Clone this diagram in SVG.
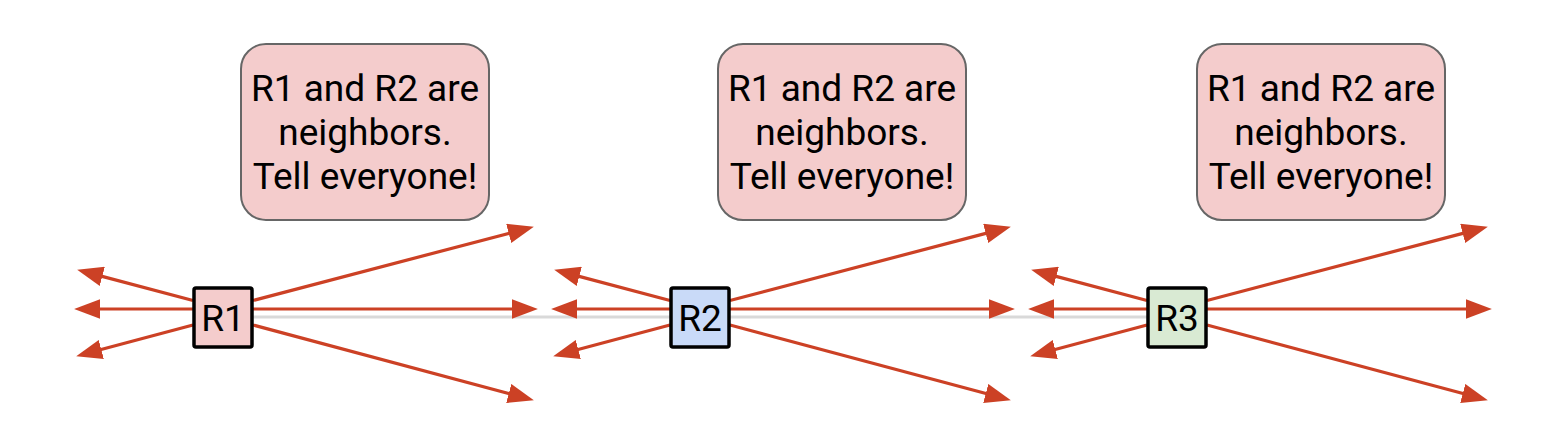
<svg xmlns="http://www.w3.org/2000/svg" width="1559" height="430" viewBox="0 0 1559 430">
<style>
.callout{fill:#f4cccc;stroke:#666666;stroke-width:2}
.ctext{font-family:Roboto,"Liberation Sans",sans-serif;font-size:37px;fill:#000000;text-anchor:middle}
.router{stroke:#000000;stroke-width:3.5}
.rtext{font-family:Roboto,"Liberation Sans",sans-serif;font-size:37px;fill:#000000;text-anchor:middle}
.arr{stroke:#cc4125;stroke-width:3.2;fill:none;marker-end:url(#ah)}
.link{stroke:#d9d9d9;stroke-width:3;fill:none}
</style>
<defs>
<marker id="ah" markerUnits="userSpaceOnUse" markerWidth="26" markerHeight="20" refX="3" refY="9.5" orient="auto" viewBox="0 0 25 19">
<path d="M0,0 L25,9.5 L0,19 z" fill="#cc4125"/>
</marker>
<g id="fan">
<line class="arr" x1="253" y1="309" x2="515" y2="309"/>
<line class="arr" x1="193" y1="309" x2="97" y2="309"/>
<line class="arr" x1="253" y1="300.5" x2="511.7" y2="232.6"/>
<line class="arr" x1="253" y1="325" x2="511.75" y2="394.3"/>
<line class="arr" x1="193" y1="300.5" x2="99.3" y2="275.6"/>
<line class="arr" x1="193" y1="325" x2="98.3" y2="350.3"/>
</g>
</defs>
<g id="connectors">
<line class="link" x1="253" y1="317" x2="1147" y2="317"/>
<use href="#fan"/>
<use href="#fan" x="477"/>
<use href="#fan" x="954"/>
</g>
<g id="callout1">
<rect class="callout" x="241" y="44" width="248" height="176" rx="25"/>
<text class="ctext" x="365" y="101">R1 and R2 are</text>
<text class="ctext" x="365" y="145">neighbors.</text>
<text class="ctext" x="365" y="189">Tell everyone!</text>
</g>
<g id="callout2">
<rect class="callout" x="718" y="44" width="248" height="176" rx="25"/>
<text class="ctext" x="842" y="101">R1 and R2 are</text>
<text class="ctext" x="842" y="145">neighbors.</text>
<text class="ctext" x="842" y="189">Tell everyone!</text>
</g>
<g id="callout3">
<rect class="callout" x="1197" y="44" width="248" height="176" rx="25"/>
<text class="ctext" x="1321" y="101">R1 and R2 are</text>
<text class="ctext" x="1321" y="145">neighbors.</text>
<text class="ctext" x="1321" y="189">Tell everyone!</text>
</g>
<g id="R1">
<rect class="router" x="194" y="288" width="58" height="59" rx="2" fill="#f4cccc"/>
<text class="rtext" x="223" y="331">R1</text>
</g>
<g id="R2">
<rect class="router" x="671" y="288" width="58" height="59" rx="2" fill="#c9daf8"/>
<text class="rtext" x="700" y="331">R2</text>
</g>
<g id="R3">
<rect class="router" x="1148" y="288" width="58" height="59" rx="2" fill="#d9ead3"/>
<text class="rtext" x="1177" y="331">R3</text>
</g>
</svg>
